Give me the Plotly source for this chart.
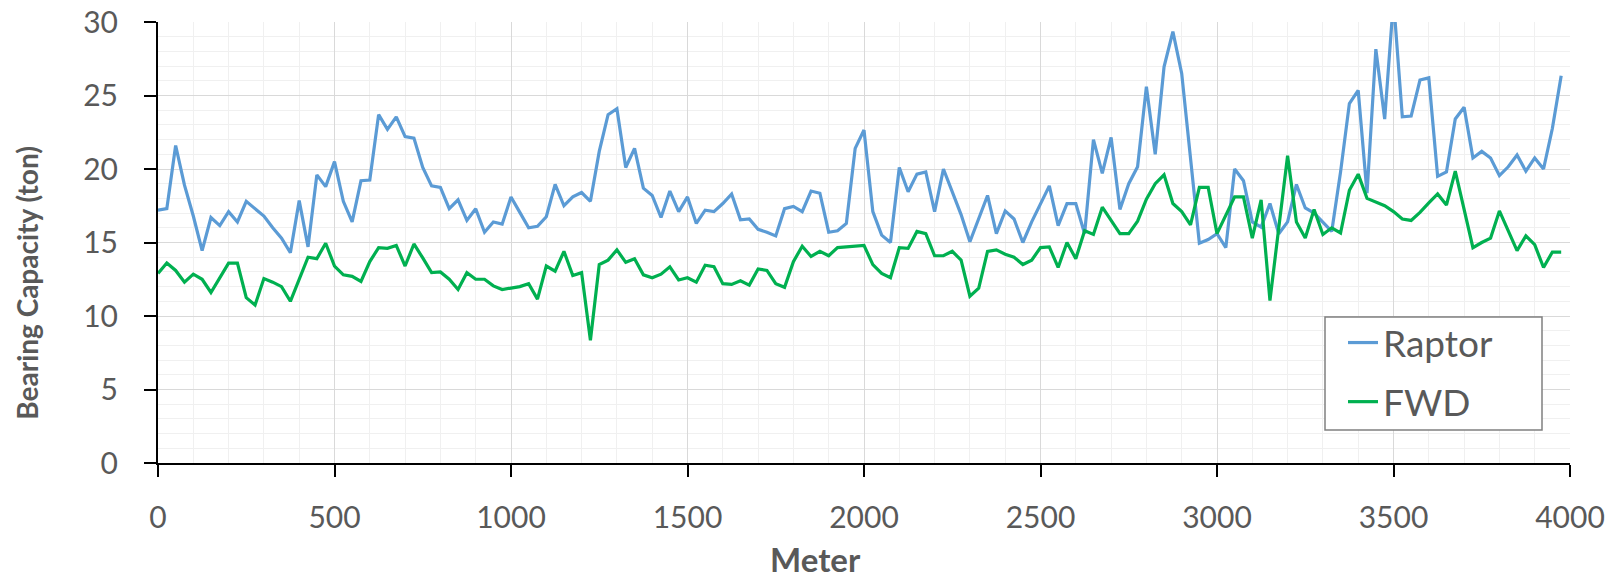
import plotly.graph_objects as go

meters = [
    0, 25, 50, 75, 100, 125, 150, 175, 200, 225, 250, 275, 300, 325, 350, 375, 400, 425, 450, 475,
    500, 525, 550, 575, 600, 625, 650, 675, 700, 725, 750, 775, 800, 825, 850, 875, 900, 925, 950, 975,
    1000, 1025, 1050, 1075, 1100, 1125, 1150, 1175, 1200, 1225, 1250, 1275, 1300, 1325, 1350, 1375, 1400, 1425, 1450, 1475,
    1500, 1525, 1550, 1575, 1600, 1625, 1650, 1675, 1700, 1725, 1750, 1775, 1800, 1825, 1850, 1875, 1900, 1925, 1950, 1975,
    2000, 2025, 2050, 2075, 2100, 2125, 2150, 2175, 2200, 2225, 2250, 2275, 2300, 2325, 2350, 2375, 2400, 2425, 2450, 2475,
    2500, 2525, 2550, 2575, 2600, 2625, 2650, 2675, 2700, 2725, 2750, 2775, 2800, 2825, 2850, 2875, 2900, 2925, 2950, 2975,
    3000, 3025, 3050, 3075, 3100, 3125, 3150, 3175, 3200, 3225, 3250, 3275, 3300, 3325, 3350, 3375, 3400, 3425, 3450, 3475,
    3500, 3525, 3550, 3575, 3600, 3625, 3650, 3675, 3700, 3725, 3750, 3775, 3800, 3825, 3850, 3875, 3900, 3925, 3950, 3975,
]

raptor = [
    17.2, 17.3, 21.6, 18.9, 16.8, 14.45, 16.7, 16.15, 17.1, 16.4, 17.8, 17.3, 16.8, 16.0, 15.3, 14.3, 17.85, 14.7, 19.6, 18.8,
    20.5, 17.8, 16.4, 19.2, 19.25, 23.7, 22.7, 23.55, 22.2, 22.1, 20.1, 18.85, 18.75, 17.3, 17.9, 16.5, 17.3, 15.7, 16.4, 16.25,
    18.1, 17.05, 16.0, 16.1, 16.75, 18.95, 17.5, 18.1, 18.4, 17.8, 21.2, 23.7, 24.1, 20.1, 21.4, 18.7, 18.2, 16.7, 18.5, 17.1,
    18.1, 16.3, 17.2, 17.1, 17.65, 18.3, 16.55, 16.6, 15.9, 15.7, 15.45, 17.3, 17.45, 17.1, 18.5, 18.35, 15.7, 15.8, 16.3, 21.4,
    22.65, 17.1, 15.5, 15.0, 20.1, 18.45, 19.65, 19.8, 17.1, 20.0, 18.5, 16.9, 15.05, 16.65, 18.2, 15.6, 17.15, 16.6, 15.0, 16.4,
    17.6, 18.85, 16.15, 17.65, 17.65, 15.6, 22.0, 19.7, 22.15, 17.25, 19.0, 20.15, 25.6, 21.0, 26.95, 29.35, 26.5, 20.8, 14.95, 15.2,
    15.6, 14.65, 20.0, 19.2, 16.4, 16.05, 17.65, 15.6, 16.4, 18.95, 17.35, 17.0, 16.4, 15.75, 19.8, 24.45, 25.35, 18.35, 28.15, 23.4,
    31.5, 23.55, 23.6, 26.05, 26.2, 19.5, 19.8, 23.4, 24.2, 20.75, 21.2, 20.75, 19.55, 20.15, 20.95, 19.85, 20.75, 20.0, 22.75, 26.35,
]

fwd = [
    12.9, 13.6, 13.1, 12.3, 12.85, 12.5, 11.6, 12.6, 13.6, 13.6, 11.25, 10.75, 12.55, 12.3, 12.0, 11.0, 12.55, 14.0, 13.9, 14.95,
    13.4, 12.8, 12.7, 12.35, 13.7, 14.65, 14.6, 14.8, 13.4, 14.9, 13.95, 12.95, 13.0, 12.5, 11.8, 12.95, 12.5, 12.5, 12.05, 11.8,
    11.9, 12.0, 12.2, 11.15, 13.4, 13.05, 14.4, 12.75, 12.95, 8.35, 13.5, 13.8, 14.5, 13.65, 13.9, 12.8, 12.6, 12.85, 13.35, 12.45,
    12.6, 12.3, 13.45, 13.35, 12.2, 12.15, 12.4, 12.1, 13.2, 13.1, 12.2, 11.95, 13.7, 14.75, 14.05, 14.4, 14.1, 14.65, 14.7, 14.75,
    14.8, 13.5, 12.9, 12.6, 14.65, 14.6, 15.75, 15.6, 14.1, 14.1, 14.4, 13.8, 11.35, 11.9, 14.4, 14.5, 14.2, 14.0, 13.5, 13.8,
    14.65, 14.7, 13.3, 15.0, 13.9, 15.8, 15.55, 17.4, 16.5, 15.6, 15.6, 16.45, 17.95, 19.0, 19.6, 17.65, 17.1, 16.2, 18.75, 18.75,
    15.6, 16.9, 18.1, 18.1, 15.3, 17.9, 11.05, 16.0, 20.9, 16.4, 15.3, 17.25, 15.55, 16.0, 15.65, 18.55, 19.65, 18.0, 17.75, 17.5,
    17.1, 16.6, 16.5, 17.05, 17.7, 18.3, 17.55, 19.85, 17.25, 14.65, 15.0, 15.3, 17.15, 15.8, 14.45, 15.45, 14.85, 13.3, 14.35, 14.35,
]

series_names = ["Raptor", "FWD"]
series_colors = ["#5b9bd5", "#00b050"]
x_title = "Meter"
y_title = "Bearing Capacity (ton)"

FONT = "Lato, 'Open Sans', sans-serif"
TXT = "#595959"

# plot-area geometry (pixels) used only for placing the legend box / titles
L, R, T, B = 158, 1570, 22, 463
PW, PH = R - L, B - T


def px(xp):
    return (xp - L) / PW


def py(yp):
    return (B - yp) / PH


fig = go.Figure()
for name, vals, col, grp in zip(series_names, [raptor, fwd], series_colors, ["g1", "g2"]):
    fig.add_trace(go.Scatter(
        x=meters, y=vals, mode="lines", name=name, legendgroup=grp,
        line=dict(color=col, width=3.2),
    ))

axis_common = dict(
    showline=True, linecolor="black", linewidth=2,
    ticks="outside", ticklen=12, tickwidth=2, tickcolor="black",
    showgrid=True, gridcolor="#d9d9d9", gridwidth=1,
    zeroline=False, automargin=False,
    tickfont=dict(family=FONT, size=30, color=TXT),
)

fig.update_xaxes(
    range=[0, 4000], dtick=500, tick0=0,
    minor=dict(dtick=100, showgrid=True, gridcolor="#f0f0f0", gridwidth=1, ticks=""),
    ticklabelstandoff=15,
    **axis_common,
)
fig.update_yaxes(
    range=[0, 30], dtick=5, tick0=0,
    minor=dict(dtick=1, showgrid=True, gridcolor="#f0f0f0", gridwidth=1, ticks=""),
    ticklabelstandoff=20,
    **axis_common,
)

# legend box
fig.add_shape(type="rect", xref="paper", yref="paper",
              x0=px(1325), x1=px(1542), y0=py(430), y1=py(317),
              line=dict(color="#808080", width=1.5), fillcolor="white", layer="above")

fig.add_annotation(text=f"<b>{x_title}</b>", xref="paper", yref="paper",
                   x=px(815), y=py(559),
                   xanchor="center", yanchor="middle", showarrow=False,
                   font=dict(family=FONT, size=33, color=TXT))
fig.add_annotation(text=f"<b>{y_title}</b>", xref="paper", yref="paper",
                   x=px(27), y=py(421.7),
                   xanchor="center", yanchor="bottom", textangle=-90, showarrow=False,
                   font=dict(family=FONT, size=28, color=TXT))

fig.update_layout(
    width=1619, height=579,
    margin=dict(l=L, r=1619 - R, t=T, b=579 - B),
    plot_bgcolor="white", paper_bgcolor="white",
    showlegend=True,
    legend=dict(
        x=px(1343), y=py(312),
        xanchor="left", yanchor="top",
        bgcolor="rgba(0,0,0,0)", borderwidth=0,
        font=dict(family=FONT, size=37, color=TXT),
        itemwidth=30, traceorder="grouped", tracegroupgap=8,
    ),
)

post = (
    "document.body.style.margin='0';document.body.style.overflow='hidden';"
    "var gd=document.getElementById('{plot_id}');"
    "gd.style.position='absolute';gd.style.left='0px';gd.style.top='0px';"
)
fig.write_html("out.html", post_script=post, config={"displayModeBar": False})
